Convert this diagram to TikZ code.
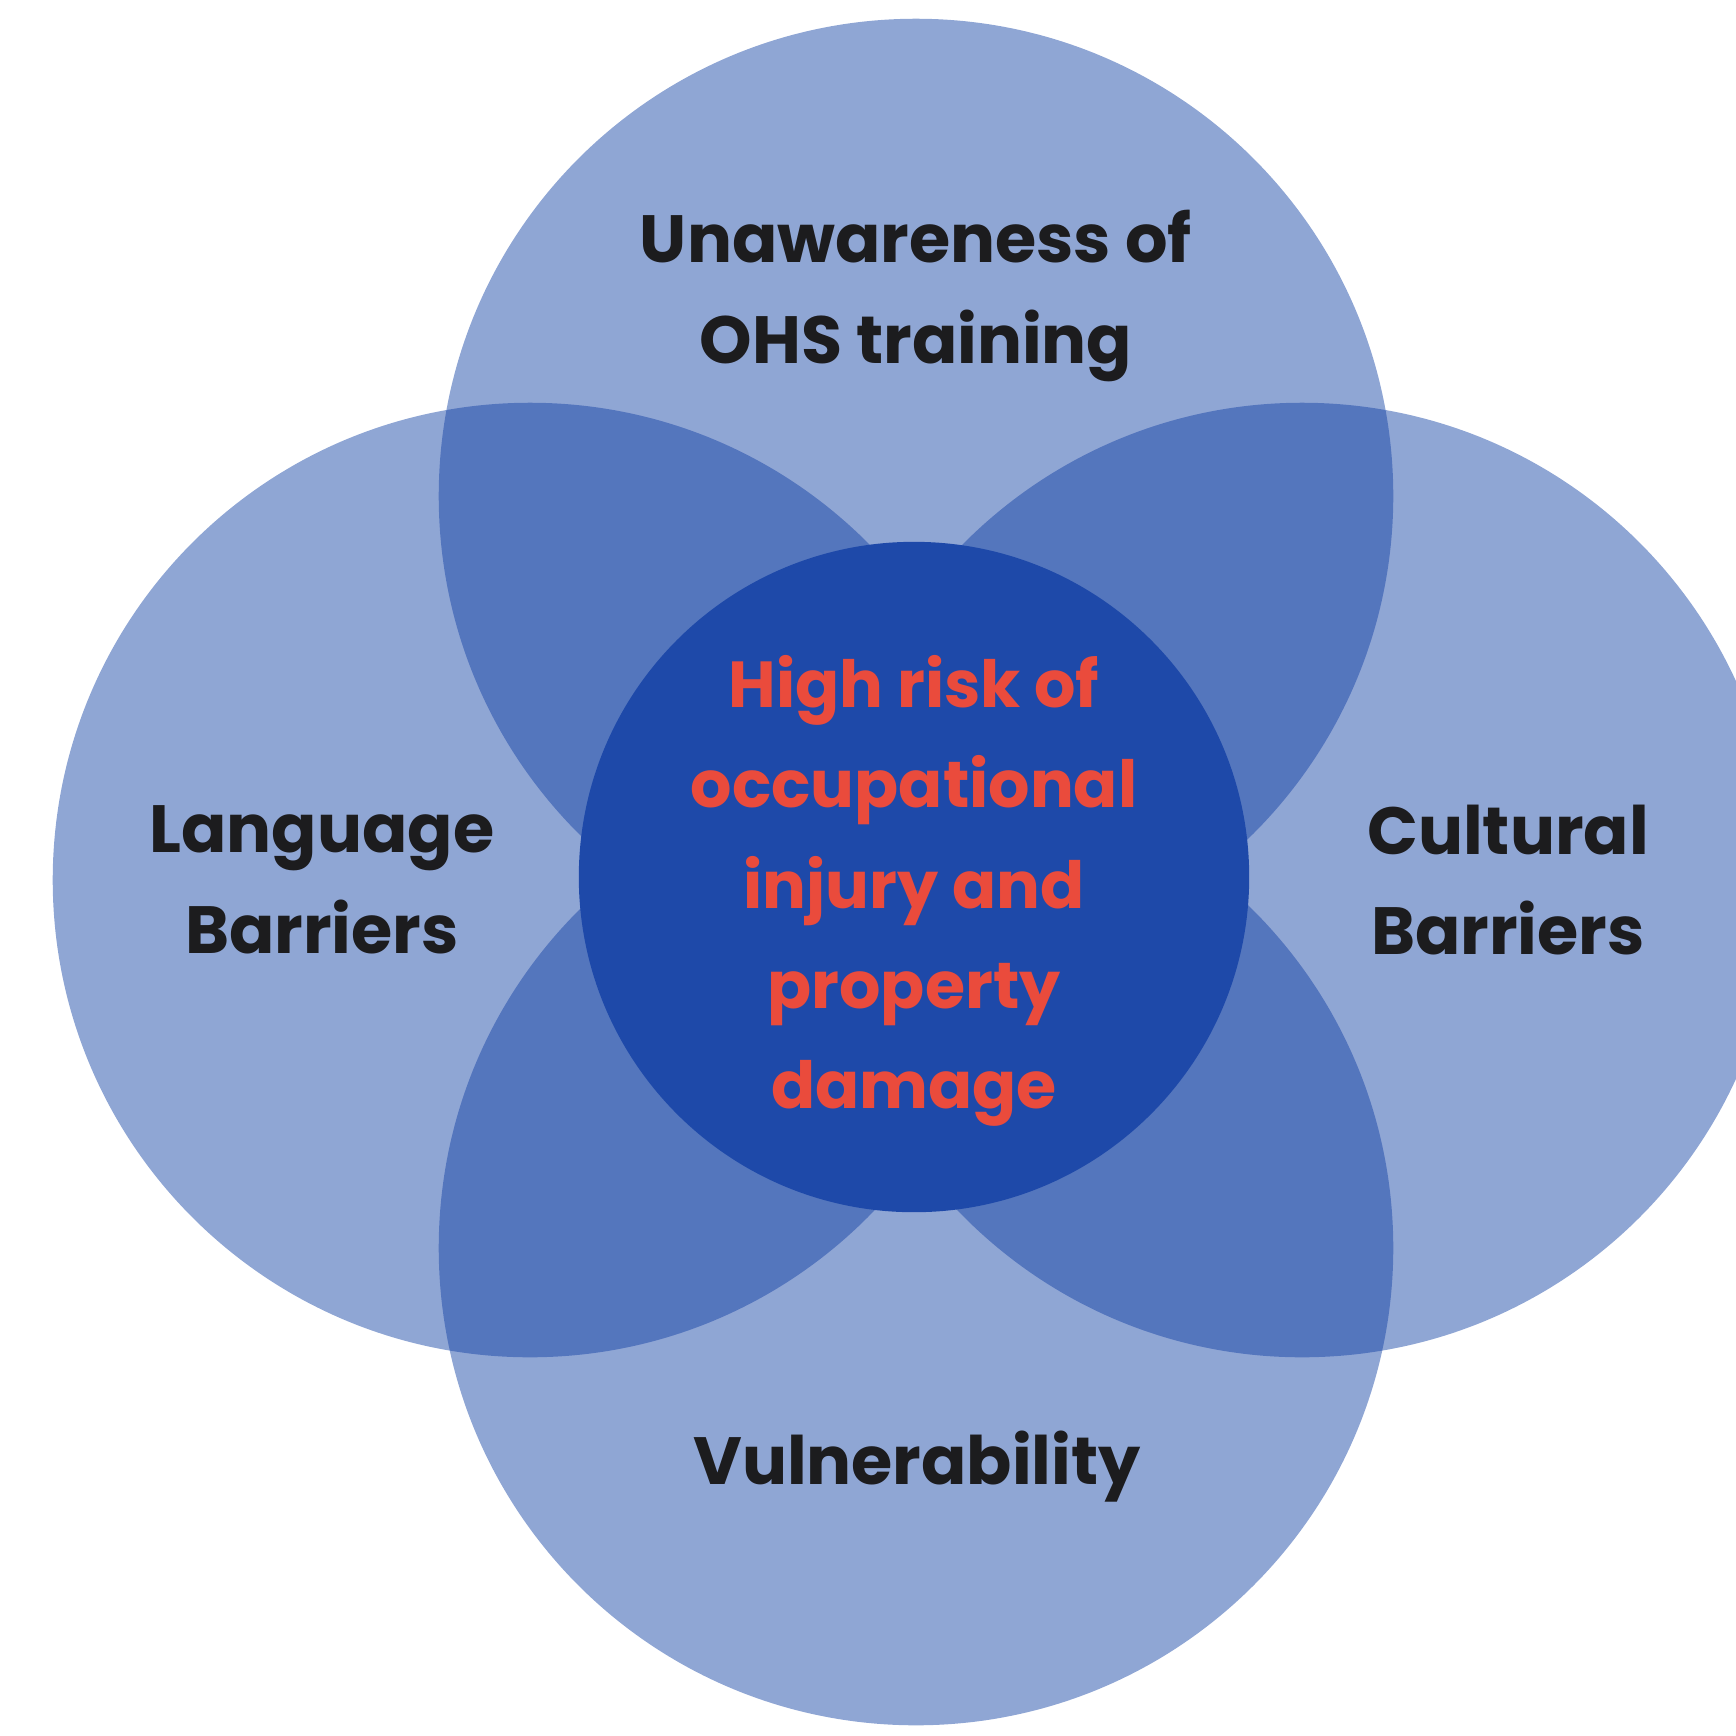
\documentclass[tikz,border=0pt]{standalone}
\usepackage{fontspec}
\setmainfont{Poppins}
\usetikzlibrary{positioning}
\definecolor{azulfactor}{HTML}{1241A4}
\definecolor{azulcentro}{HTML}{1E49A9}
\definecolor{rojoriesgo}{HTML}{EA4B3C}
\definecolor{negrotexto}{HTML}{1C1C1E}
\colorlet{colFactor}{azulfactor}
\colorlet{colCentro}{azulcentro}
\colorlet{colRiesgo}{rojoriesgo}
\colorlet{colTexto}{negrotexto}
\tikzset{
  circuloBase/.style={
    circle, draw=none, inner sep=0pt, minimum size=9.54cm
  },
  circuloFactor/.style={circuloBase, fill=colFactor, fill opacity=0.47},
  circuloCentro/.style={circuloBase, fill=colCentro, minimum size=6.7cm},
  textoBase/.style={
    align=center, inner sep=0pt, font=\bfseries
  },
  textoFactor/.style={textoBase, text=colTexto,
    font=\fontsize{19}{28.7}\selectfont\bfseries},
  textoCentro/.style={textoBase, text=colRiesgo,
    font=\fontsize{18.5}{28.5}\selectfont\bfseries},
}

\begin{document}
\begin{tikzpicture}[x=0.01cm, y=-0.01cm]
  \useasboundingbox (0,0) rectangle (1736,1735);
  \clip (0,0) rectangle (1736,1735);
  % cuatro factores alrededor
  \node[circuloFactor] (arriba) at (916,496) {};
  \node[circuloFactor] (izq) at (530,880) {};
  \node[circuloFactor] (der) at (1302,880) {};
  \node[circuloFactor] (abajo) at (916,1248) {};
  % circulo central encima
  \node[circuloCentro] (centro) at (914,877) {};

  \node[textoFactor] (tArriba) at (916,296) {Unawareness of\\OHS training};
  \node[textoFactor] (tIzq) at (322,880) {Language\\Barriers};
  \node[textoFactor] (tDer) at (1508,880) {Cultural\\Barriers};
  \node[textoFactor, anchor=base] (tAbajo) at (917,1484) {Vulnerability};
  \node[textoCentro] (tCentro) at (centro.center) [yshift=-0.14cm]
    {High risk of\\occupational\\injury and\\property\\damage};
\end{tikzpicture}
\end{document}
